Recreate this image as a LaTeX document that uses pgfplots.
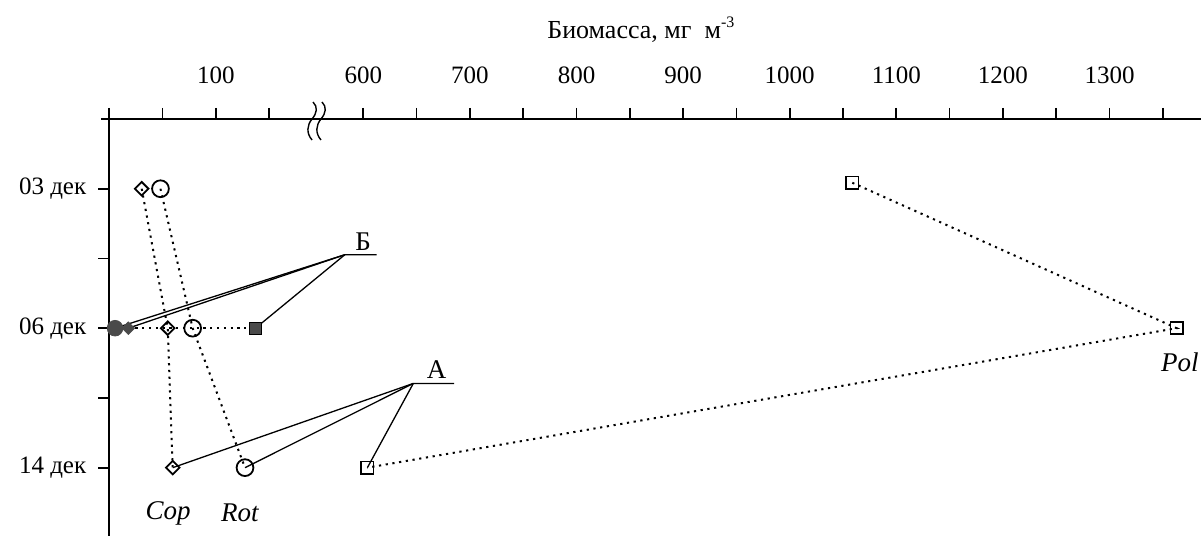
\documentclass[border=0pt]{standalone}
\usepackage{fontspec}
\setmainfont{Liberation Serif}
\usepackage{pgfplots}
\pgfplotsset{compat=1.18}
\usetikzlibrary{calc}
\definecolor{darkfill}{HTML}{4A4A4A}
\begin{document}
\begin{tikzpicture}
\begin{axis}[
  scale only axis, width=545.85pt, height=208.5pt,
  xmin=0, xmax=1385.8, ymin=-2.49, ymax=0.5,
  x coord trafo/.code={\pgfmathparse{#1>400 ? #1-361.7 : #1}},
  axis x line*=top, axis y line*=left,
  axis line style={line width=0.85pt},
  tick style={line width=0.85pt, black},
  tick align=outside,
  major tick length=5.5pt,
  xtick={0,50,100,150,600,650,700,750,800,850,900,950,1000,1050,1100,1150,1200,1250,1300,1350},
  xticklabels={,,100,,600,,700,,800,,900,,1000,,1100,,1200,,1300,},
  ytick={-2,-1.5,-1,-0.5,0},
  yticklabels={14 дек,,06 дек,,03 дек},
  /pgf/number format/assume math mode=true,
  every tick label/.append style={font=\fontsize{12.5}{14}\selectfont},
  xticklabel style={yshift=8.5pt},
  yticklabel style={xshift=-2.5pt},
  clip=false,
]
% leader lines B
\addplot[line width=0.65pt] coordinates {(612.5,-0.473) (221,-0.473) (5.4,-1)};
\addplot[line width=0.65pt] coordinates {(221,-0.473) (17.8,-1)};
\addplot[line width=0.65pt] coordinates {(221,-0.473) (137.1,-1)};
% leader lines A
\addplot[line width=0.65pt] coordinates {(685.1,-1.396) (646.9,-1.396) (59.5,-2)};
\addplot[line width=0.65pt] coordinates {(646.9,-1.396) (127.3,-2)};
\addplot[line width=0.65pt] coordinates {(646.9,-1.396) (603.8,-2)};
% dotted row at 06
\addplot[line width=1pt, dash pattern=on 1.1pt off 2.3pt] coordinates {(5.4,-1) (137.1,-1)};
% Cop
\addplot[line width=1pt, dash pattern=on 1.1pt off 2.3pt, mark=square, mark size=2.4pt,
  mark options={solid, rotate=45, fill=white, line width=0.9pt}] coordinates {(30.4,0) (54.8,-1) (59.5,-2)};
% Rot
\addplot[line width=1pt, dash pattern=on 1.1pt off 2.3pt, mark=o, mark size=4.2pt,
  mark options={solid, fill=white, line width=0.9pt}] coordinates {(48,0) (78.2,-1) (127.3,-2)};
% Pol
\addplot[line width=1pt, dash pattern=on 1.1pt off 2.3pt, mark=square, mark size=3.1pt,
  mark options={solid, fill=white, line width=0.9pt}] coordinates {(1058.7,0.043) (1363,-1) (603.8,-2)};
% filled marks at 06
\addplot[only marks, mark=*, mark size=3.9pt, mark options={fill=darkfill, draw=darkfill}] coordinates {(5.4,-1)};
\addplot[only marks, mark=square*, mark size=2.2pt, mark options={rotate=45, fill=darkfill, draw=darkfill}] coordinates {(17.8,-1)};
\addplot[only marks, mark=square*, mark size=3pt, mark options={fill=darkfill, draw=black, line width=0.6pt}] coordinates {(137.1,-1)};
% labels
\node[font=\fontsize{13}{15}\selectfont] at (rel axis cs:0.4869,1.2134) {Биомасса, мг\ \ м\raisebox{0.9ex}{\fontsize{8}{9}\selectfont -3}};
\node[font=\fontsize{13.5}{15}\selectfont] at (rel axis cs:0.2324,0.705) {Б};
\node[font=\fontsize{13.5}{15}\selectfont] at (rel axis cs:0.2999,0.398) {А};
\node[font=\itshape\fontsize{13.5}{15}\selectfont] at (rel axis cs:0.0538,0.0552) {Cop};
\node[font=\itshape\fontsize{13.5}{15}\selectfont] at (rel axis cs:0.1197,0.0552) {Rot};
\node[font=\itshape\fontsize{13.5}{15}\selectfont] at (rel axis cs:0.9807,0.4173) {Pol};
\coordinate (brA) at (rel axis cs:0.1848,1);
\coordinate (brB) at (rel axis cs:0.1930,1);
\coordinate (tl) at (rel axis cs:0,1);
\end{axis}
% axis break
\foreach \c in {brA,brB}{
  \draw[line width=0.7pt] ($(\c)+(1pt,8.5pt)$) .. controls ($(\c)+(3.5pt,6pt)$) and ($(\c)+(3pt,3pt)$) .. ($(\c)+(0.5pt,0)$)
     .. controls ($(\c)+(-2pt,-3pt)$) and ($(\c)+(-2.5pt,-7pt)$) .. ($(\c)+(0.5pt,-10.5pt)$);
}
\draw[line width=0.85pt] (tl) -- ++(-4.15pt,0);
\pgfresetboundingbox
\path[use as bounding box] ($(current axis.south west)+(-54.65pt,0)$) rectangle ($(current axis.north east)+(0,59.5pt)$);
\end{tikzpicture}
\end{document}
